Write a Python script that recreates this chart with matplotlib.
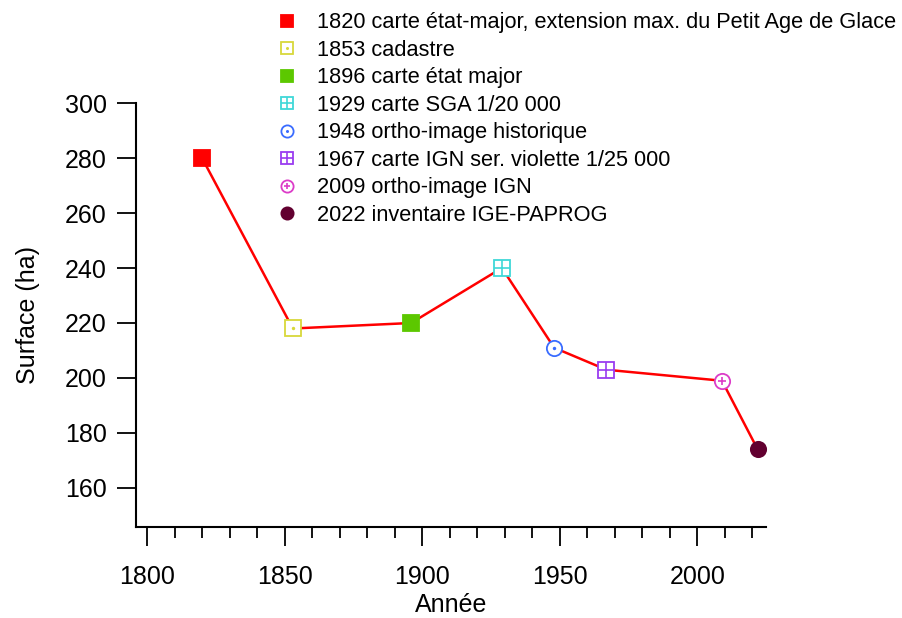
import matplotlib
matplotlib.use("Agg")
import matplotlib.pyplot as plt
from matplotlib.ticker import MultipleLocator

plt.rcParams['font.family'] = ['Liberation Sans', 'DejaVu Sans']

# data
years = [1820, 1853, 1896, 1929, 1948, 1967, 2009, 2022]
surface = [280, 218, 220, 240, 211, 203, 199, 174]
labels = [
    "1820 carte état-major, extension max. du Petit Age de Glace",
    "1853 cadastre",
    "1896 carte état major",
    "1929 carte SGA 1/20 000",
    "1948 ortho-image historique",
    "1967 carte IGN ser. violette 1/25 000",
    "2009 ortho-image IGN",
    "2022 inventaire IGE-PAPROG",
]
colors = ['#ff0000', '#d8d83a', '#5cc800', '#3fd8d8', '#3a6cff', '#9a3cf0', '#dc3cc8', '#620030']
# marker, filled?, inner marker
styles = [('s', True, None), ('s', False, '.'), ('s', True, None), ('s', False, '+'),
          ('o', False, '.'), ('s', False, '+'), ('o', False, '+'), ('o', True, None)]

fig = plt.figure(figsize=(9.02, 6.18), dpi=100)
ax = fig.add_axes([0.1508, 0.1472, 0.6984, 0.6861])

ax.plot(years, surface, color='#ff0000', lw=1.8, zorder=2)

handles = []
for x, y, c, (m, filled, inner) in zip(years, surface, colors, styles):
    ms = 11
    h1, = ax.plot([x], [y], ls='none', marker=m, ms=ms, mec=c, mew=1.3,
                  mfc=c if filled else 'white', zorder=3, clip_on=False)
    if inner is None:
        handles.append(h1)
        continue
    ims = 2.5 if inner == '.' else (ms if m == 's' else 6)
    h2, = ax.plot([x], [y], ls='none', marker=inner, ms=ims, color=c,
                  mew=1.2, zorder=4, clip_on=False)
    handles.append((h1, h2))

ax.set_xlim(1796, 2025)
ax.set_ylim(145.8, 300)
ax.xaxis.set_major_locator(MultipleLocator(50))
ax.xaxis.set_minor_locator(MultipleLocator(10))
ax.set_yticks(range(160, 301, 20))

for s in ['top', 'right']:
    ax.spines[s].set_visible(False)
for s in ['left', 'bottom']:
    ax.spines[s].set_linewidth(1.5)

ax.tick_params(axis='both', which='major', direction='out', length=14, width=1.3,
               labelsize=18, pad=7)
ax.tick_params(axis='x', which='major', pad=13)
ax.tick_params(axis='x', which='minor', direction='out', length=8, width=1.3)

ax.set_xlabel("Année", fontsize=18, labelpad=3)
ax.set_ylabel("Surface (ha)", fontsize=18, labelpad=18)

fig.legend(handles, labels, loc='upper left', bbox_to_anchor=(0.294, 0.998),
           frameon=False, fontsize=15.7, handlelength=1.0, handletextpad=0.88,
           borderpad=0, labelspacing=0.3, markerscale=0.8)

fig.savefig("out.png", dpi=100)
